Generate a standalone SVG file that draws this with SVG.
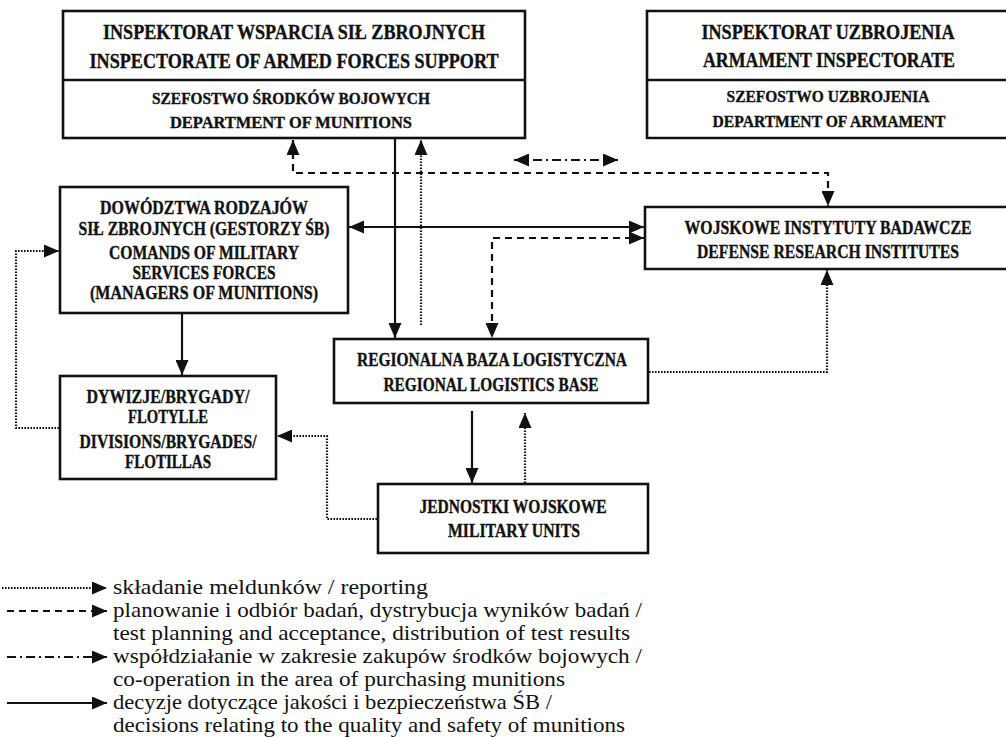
<svg xmlns="http://www.w3.org/2000/svg" width="1006" height="737" viewBox="0 0 1006 737">
<style>
.box{fill:#fff;stroke:#111;stroke-width:2.6}
.fill{fill:#fff}
.edge{fill:none;stroke:#111;stroke-width:2.6}
.div{stroke:#111;stroke-width:2.6}
.t{font-family:'Liberation Serif','Times New Roman',Times,serif;font-weight:bold;fill:#111;stroke:#111;stroke-width:0.35;text-anchor:middle}
.big{font-size:21px}
.mid{font-size:18.5px}
.sm{font-size:17px}
.lg{font-family:'Liberation Serif','Times New Roman',Times,serif;font-size:22px;fill:#111}
.c{fill:none;stroke:#111;stroke-width:2.2}
.dot{stroke-dasharray:1.6 1.4}
.dash{stroke-dasharray:7 5}
.dd{stroke-dasharray:9 4 2 4}
</style>
<defs>
<marker id="ah" viewBox="0 0 15 13" refX="15" refY="6.5" markerWidth="15" markerHeight="13" markerUnits="userSpaceOnUse" orient="auto-start-reverse">
<path d="M0,0 L15,6.5 L0,13 Z" fill="#111"/>
</marker>
</defs>
<g id="node-iwsz">
<rect class="box" x="63" y="11" width="462" height="127"/>
<line class="div" x1="63" y1="80" x2="525" y2="80"/>
<text class="t big" x="294" y="39" textLength="382" lengthAdjust="spacingAndGlyphs">INSPEKTORAT WSPARCIA SIŁ ZBROJNYCH</text>
<text class="t big" x="294" y="68" textLength="409" lengthAdjust="spacingAndGlyphs">INSPECTORATE OF ARMED FORCES SUPPORT</text>
<text class="t sm" x="291" y="104" textLength="278" lengthAdjust="spacingAndGlyphs">SZEFOSTWO ŚRODKÓW BOJOWYCH</text>
<text class="t sm" x="291" y="128" textLength="242" lengthAdjust="spacingAndGlyphs">DEPARTMENT OF MUNITIONS</text>
</g>
<g id="node-iu">
<rect class="fill" x="647" y="11" width="359" height="127"/>
<path class="edge" d="M1006,11 H647 V138 H1006"/>
<line class="div" x1="647" y1="80" x2="1006" y2="80"/>
<text class="t big" x="828" y="39" textLength="253" lengthAdjust="spacingAndGlyphs">INSPEKTORAT UZBROJENIA</text>
<text class="t big" x="829" y="67" textLength="252" lengthAdjust="spacingAndGlyphs">ARMAMENT INSPECTORATE</text>
<text class="t sm" x="828" y="102" textLength="203" lengthAdjust="spacingAndGlyphs">SZEFOSTWO UZBROJENIA</text>
<text class="t sm" x="829" y="127" textLength="233" lengthAdjust="spacingAndGlyphs">DEPARTMENT OF ARMAMENT</text>
</g>
<g id="node-dowodztwa">
<rect class="box" x="60" y="187" width="288" height="126"/>
<text class="t mid" x="204" y="214" textLength="208" lengthAdjust="spacingAndGlyphs">DOWÓDZTWA RODZAJÓW</text>
<text class="t mid" x="204" y="235" textLength="251" lengthAdjust="spacingAndGlyphs">SIŁ ZBROJNYCH (GESTORZY ŚB)</text>
<text class="t mid" x="204" y="259" textLength="190" lengthAdjust="spacingAndGlyphs">COMANDS OF MILITARY</text>
<text class="t mid" x="204" y="279" textLength="143" lengthAdjust="spacingAndGlyphs">SERVICES FORCES</text>
<text class="t mid" x="204" y="299" textLength="228" lengthAdjust="spacingAndGlyphs">(MANAGERS OF MUNITIONS)</text>
</g>
<g id="node-wib">
<rect class="fill" x="645" y="207" width="361" height="62"/>
<path class="edge" d="M1006,207 H645 V269 H1006"/>
<text class="t mid" x="828" y="234" textLength="287" lengthAdjust="spacingAndGlyphs">WOJSKOWE INSTYTUTY BADAWCZE</text>
<text class="t mid" x="828" y="258" textLength="262" lengthAdjust="spacingAndGlyphs">DEFENSE RESEARCH INSTITUTES</text>
</g>
<g id="node-dywizje">
<rect class="box" x="60" y="376" width="216" height="103"/>
<text class="t mid" x="168" y="403" textLength="163" lengthAdjust="spacingAndGlyphs">DYWIZJE/BRYGADY/</text>
<text class="t mid" x="168" y="423" textLength="80" lengthAdjust="spacingAndGlyphs">FLOTYLLE</text>
<text class="t mid" x="168" y="448" textLength="177" lengthAdjust="spacingAndGlyphs">DIVISIONS/BRYGADES/</text>
<text class="t mid" x="168" y="468" textLength="86" lengthAdjust="spacingAndGlyphs">FLOTILLAS</text>
</g>
<g id="node-rbl">
<rect class="box" x="334" y="339" width="314" height="64"/>
<text class="t mid" x="492" y="366" textLength="270" lengthAdjust="spacingAndGlyphs">REGIONALNA BAZA LOGISTYCZNA</text>
<text class="t mid" x="491" y="391" textLength="215" lengthAdjust="spacingAndGlyphs">REGIONAL LOGISTICS BASE</text>
</g>
<g id="node-jw">
<rect class="box" x="378" y="484" width="270" height="69"/>
<text class="t mid" x="513" y="513" textLength="187" lengthAdjust="spacingAndGlyphs">JEDNOSTKI WOJSKOWE</text>
<text class="t mid" x="514" y="537" textLength="132" lengthAdjust="spacingAndGlyphs">MILITARY UNITS</text>
</g>
<g id="connectors">
<path class="c dash" d="M293,140 V173 H828 V206" marker-start="url(#ah)" marker-end="url(#ah)"/>
<path class="c" d="M349,227 H644" marker-start="url(#ah)" marker-end="url(#ah)"/>
<path class="c" d="M395,139 V338" marker-end="url(#ah)"/>
<path class="c dot" d="M421,325 V140" marker-end="url(#ah)"/>
<path class="c dd" d="M514,160 H618" marker-start="url(#ah)" marker-end="url(#ah)"/>
<path class="c dash" d="M644,238 H492 V338" marker-start="url(#ah)" marker-end="url(#ah)"/>
<path class="c dot" d="M649,372 H827 V270" marker-end="url(#ah)"/>
<path class="c" d="M182,314 V375" marker-end="url(#ah)"/>
<path class="c dot" d="M59,428 H16 V251 H59" marker-end="url(#ah)"/>
<path class="c dot" d="M377,519 H327 V436 H277" marker-end="url(#ah)"/>
<path class="c" d="M472,411 V483" marker-end="url(#ah)"/>
<path class="c dot" d="M525,483 V413" marker-end="url(#ah)"/>
</g>
<g id="legend">
<path class="c dot" d="M2,588 H107" marker-end="url(#ah)"/>
<path class="c dash" d="M7,611 H107" marker-end="url(#ah)"/>
<path class="c dd" d="M7,657 H107" marker-end="url(#ah)"/>
<path class="c" d="M7,703 H107" marker-end="url(#ah)"/>
<text class="lg" x="113" y="594" textLength="315" lengthAdjust="spacingAndGlyphs">składanie meldunków / reporting</text>
<text class="lg" x="113" y="617" textLength="529" lengthAdjust="spacingAndGlyphs">planowanie i odbiór badań, dystrybucja wyników badań /</text>
<text class="lg" x="113" y="640" textLength="517" lengthAdjust="spacingAndGlyphs">test planning and acceptance, distribution of test results</text>
<text class="lg" x="113" y="663" textLength="529" lengthAdjust="spacingAndGlyphs">współdziałanie w zakresie zakupów środków bojowych /</text>
<text class="lg" x="113" y="686" textLength="452" lengthAdjust="spacingAndGlyphs">co-operation in the area of purchasing munitions</text>
<text class="lg" x="113" y="709" textLength="439" lengthAdjust="spacingAndGlyphs">decyzje dotyczące jakości i bezpieczeństwa ŚB /</text>
<text class="lg" x="113" y="732" textLength="512" lengthAdjust="spacingAndGlyphs">decisions relating to the quality and safety of munitions</text>
</g>
</svg>
